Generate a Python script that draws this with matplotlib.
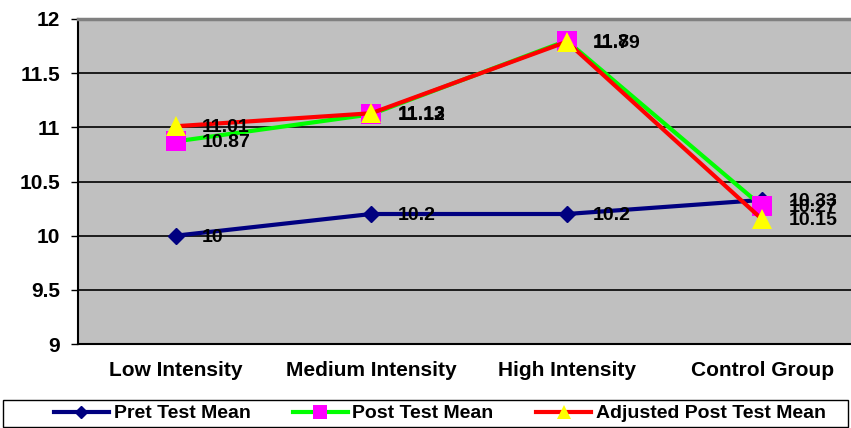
import matplotlib.pyplot as plt
from matplotlib.patches import Rectangle

plt.rcParams['font.family'] = ['Liberation Sans', 'DejaVu Sans']
plt.rcParams['font.weight'] = 'bold'

groups = ["Low Intensity", "Medium Intensity", "High Intensity", "Control Group"]
pret_mean = [10, 10.2, 10.2, 10.33]
post_mean = [10.87, 11.12, 11.8, 10.27]
adj_post_mean = [11.01, 11.13, 11.79, 10.15]
y_ticks = [9, 9.5, 10, 10.5, 11, 11.5, 12]

fig = plt.figure(figsize=(8.51, 4.28), dpi=100)
ax = fig.add_axes([78 / 851, 84 / 428, 782 / 851, 325 / 428])
ax.set_facecolor('#C0C0C0')

x = range(len(groups))
l1, = ax.plot(x, pret_mean, color='#000080', lw=3, marker='D', ms=8,
              mfc='#000080', mec='#000080', label='Pret Test Mean', zorder=3)
l2, = ax.plot(x, post_mean, color='#00FF00', lw=3, marker='s', ms=14,
              mfc='#FF00FF', mec='#FF00FF', mew=0, label='Post Test Mean', zorder=4)
l3, = ax.plot(x, adj_post_mean, color='#FF0000', lw=3, marker='^', ms=14,
              mfc='#FFFF00', mec='#FFFF00', mew=0, label='Adjusted Post Test Mean', zorder=5)

# data labels to the right of each point
for series in (pret_mean, post_mean, adj_post_mean):
    for i, v in enumerate(series):
        ax.annotate(f"{v:g}", (i, v), xytext=(19, -1), textcoords='offset points',
                    ha='left', va='center', fontsize=14, fontweight='bold', zorder=6)

ax.set_xlim(-0.5, 3.5)
ax.set_ylim(9, 12)
ax.set_yticks(y_ticks)
ax.set_yticklabels([f"{t:g}" for t in y_ticks], fontsize=15, fontweight='bold')
ax.set_xticks(list(x))
ax.set_xticklabels(groups, fontsize=15, fontweight='bold')
ax.tick_params(axis='y', length=5, width=1, pad=8, direction='out')
ax.tick_params(axis='x', length=0, pad=12)

for t in y_ticks[1:-1]:
    ax.axhline(t, color='black', lw=1.2, zorder=1)

ax.spines['top'].set_color('#808080')
ax.spines['top'].set_linewidth(2.5)
ax.spines['right'].set_visible(False)
ax.spines['left'].set_linewidth(1.5)
ax.spines['bottom'].set_linewidth(1.5)

# legend box across the bottom
fig.patches.append(Rectangle((3 / 851, 1 / 428), 845 / 851, 27 / 428,
                             transform=fig.transFigure, fill=False,
                             edgecolor='black', lw=1))
fig.legend(handles=[l1, l2, l3], loc='center', bbox_to_anchor=(440 / 851, 14.5 / 428),
           ncol=3, frameon=False, handlelength=2.8,
           handletextpad=0.25, columnspacing=2.2, borderpad=0, markerscale=0.75,
           prop={'weight': 'bold', 'size': 14})

fig.savefig('out.png', dpi=100)
